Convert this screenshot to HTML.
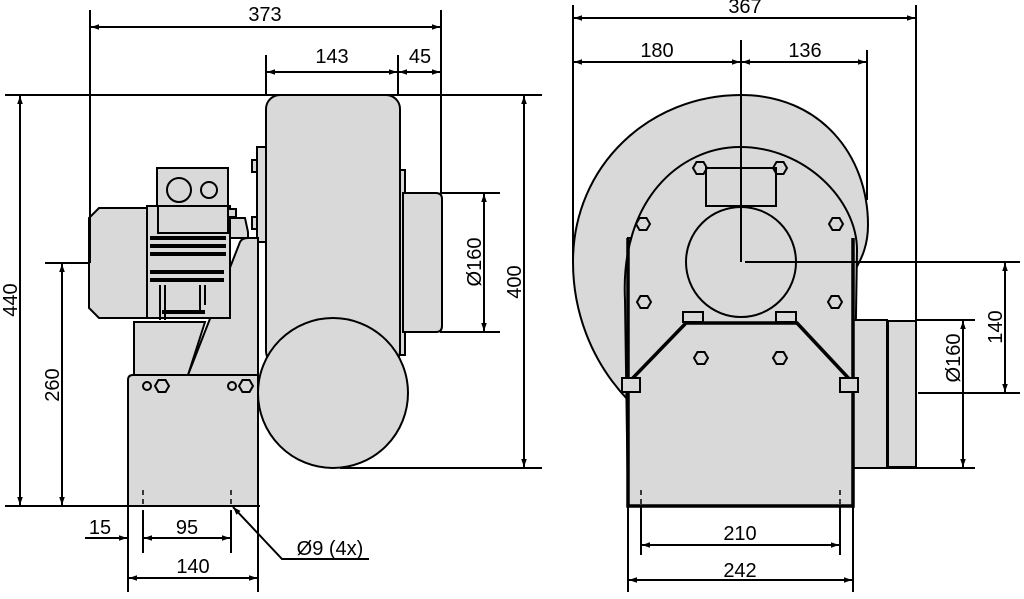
<!DOCTYPE html>
<html><head><meta charset="utf-8"><style>
html,body{margin:0;padding:0;background:#fff;}
svg{display:block;}
text{font-family:"Liberation Sans","DejaVu Sans",sans-serif;font-size:20px;fill:#000;}
</style></head><body>
<svg width="1024" height="599" viewBox="0 0 1024 599" xmlns="http://www.w3.org/2000/svg">
<defs>
<marker id="a" viewBox="0 0 10 10" refX="10" refY="5" markerWidth="10" markerHeight="8" orient="auto-start-reverse" markerUnits="userSpaceOnUse"><path d="M0,1.5 L10,5 L0,8.5z" fill="#000"/></marker>
</defs>
<g stroke="#000" stroke-width="2" fill="#d9d9d9">
<!-- LEFT VIEW -->
<!-- volute -->
<rect x="266" y="95" width="134" height="270" rx="14"/>
<rect x="400" y="170" width="5" height="185" />
<path d="M403,193 H436 Q442,193 442,199 V326 Q442,332 436,332 H403 Z"/>
<circle cx="333" cy="393" r="75"/>
<rect x="257" y="147" width="9" height="95"/>
<rect x="252" y="160" width="5" height="12"/>
<rect x="252" y="217" width="5" height="12"/>
<!-- stand -->
<path d="M128,380 Q128,375 133,375 H258 V506 H128 Z"/>
<path d="M134,322 H205 L188,375 H134 Z"/>
<path d="M188,375 L240,242 Q242,238 248,238 H258 V375 Z"/>
<!-- motor -->
<path d="M99,208 H147 V318 H99 L89,308 V218 Z"/>
<rect x="147" y="206" width="83" height="112"/>
<rect x="157" y="168" width="71" height="38"/>
<rect x="158" y="206" width="70" height="27"/>
<path d="M230,218 H245 L248,232 V238 H230 Z"/>
<rect x="228" y="209" width="8" height="8"/>
</g>
<g stroke="#000" stroke-width="4">
<line x1="150" y1="238" x2="226" y2="238"/><line x1="150" y1="246" x2="226" y2="246"/><line x1="150" y1="254" x2="226" y2="254"/>
<line x1="150" y1="272" x2="224" y2="272"/><line x1="150" y1="280" x2="224" y2="280"/>
<line x1="162" y1="312" x2="205" y2="312"/>
</g>
<g stroke="#000" stroke-width="2" fill="none">
<line x1="160" y1="285" x2="160" y2="320"/><line x1="165" y1="285" x2="165" y2="320"/>
<line x1="200" y1="285" x2="200" y2="310"/><line x1="205" y1="285" x2="205" y2="305"/>
<circle cx="179" cy="190" r="12"/><circle cx="209" cy="190" r="8"/>
<circle cx="147" cy="386" r="4"/><circle cx="232" cy="386" r="4"/>
<polygon points="155,386 158.5,380 165.5,380 169,386 165.5,392 158.5,392"/>
<polygon points="239,386 242.5,380 249.5,380 253,386 249.5,392 242.5,392"/>
</g>
<g stroke="#000" stroke-width="1.5" stroke-dasharray="5,4">
<line x1="143" y1="490" x2="143" y2="506"/><line x1="231" y1="490" x2="231" y2="506"/>
</g>
<!-- left dims -->
<g stroke="#000" stroke-width="2" fill="none">
<line x1="5" y1="95" x2="542" y2="95"/>
<line x1="5" y1="506" x2="260" y2="506"/>
<line x1="45" y1="263" x2="88" y2="263"/>
<line x1="340" y1="468" x2="542" y2="468"/>
<line x1="440" y1="193" x2="500" y2="193"/><line x1="440" y1="332" x2="500" y2="332"/>
<line x1="90" y1="10" x2="90" y2="263"/><line x1="441" y1="10" x2="441" y2="193"/>
<line x1="266" y1="55" x2="266" y2="95"/><line x1="398" y1="55" x2="398" y2="95"/>
<line x1="128" y1="506" x2="128" y2="592"/><line x1="258" y1="506" x2="258" y2="592"/>
<line x1="143" y1="510" x2="143" y2="553"/><line x1="231" y1="510" x2="231" y2="553"/>
<line x1="91" y1="27" x2="440" y2="27" marker-start="url(#a)" marker-end="url(#a)"/>
<line x1="267" y1="72" x2="397" y2="72" marker-start="url(#a)" marker-end="url(#a)"/>
<line x1="399" y1="72" x2="440" y2="72" marker-start="url(#a)" marker-end="url(#a)"/>
<line x1="20" y1="96" x2="20" y2="505" marker-start="url(#a)" marker-end="url(#a)"/>
<line x1="62" y1="264" x2="62" y2="505" marker-start="url(#a)" marker-end="url(#a)"/>
<line x1="524" y1="96" x2="524" y2="467" marker-start="url(#a)" marker-end="url(#a)"/>
<line x1="484" y1="194" x2="484" y2="331" marker-start="url(#a)" marker-end="url(#a)"/>
<line x1="85" y1="538" x2="127" y2="538" marker-end="url(#a)"/>
<line x1="144" y1="538" x2="230" y2="538" marker-start="url(#a)" marker-end="url(#a)"/>
<line x1="129" y1="578" x2="257" y2="578" marker-start="url(#a)" marker-end="url(#a)"/>
<polyline points="369,559 282,559 233,507" marker-end="url(#a)"/>
</g>
<text x="265" y="21" text-anchor="middle">373</text>
<text x="332" y="63" text-anchor="middle">143</text>
<text x="420" y="63" text-anchor="middle">45</text>
<text transform="translate(17,300) rotate(-90)" text-anchor="middle">440</text>
<text transform="translate(59,385) rotate(-90)" text-anchor="middle">260</text>
<text transform="translate(521,282) rotate(-90)" text-anchor="middle">400</text>
<text transform="translate(481,262) rotate(-90)" text-anchor="middle">Ø160</text>
<text x="100" y="534" text-anchor="middle">15</text>
<text x="187" y="534" text-anchor="middle">95</text>
<text x="193" y="573" text-anchor="middle">140</text>
<text x="330" y="555" text-anchor="middle">Ø9 (4x)</text>

<!-- RIGHT VIEW -->
<g stroke="#000" stroke-width="2" fill="#d9d9d9">
<path d="M628,400 C590,360 573,310 573,262 C573,165 650,95 741,95 C820,95 868,155 868,225 C868,245 862,258 855,270 L853,238 L628,238 Z"/>
<path d="M625,300 C620,200 680,147 740,147 C805,147 857,200 857,250 L853,506 H628 Z" />
<rect x="853" y="320" width="34" height="148"/>
<rect x="888" y="321" width="28" height="146"/>
<rect x="706" y="168" width="70" height="38"/>
<circle cx="741" cy="262" r="55"/>
</g>
<g stroke="#000" stroke-width="3.5" fill="none">
<polyline points="628,238 628,506 853,506 853,238"/>
<polyline points="628,383 686,323 797,323 853,383"/>
</g>
<g stroke="#000" stroke-width="2" fill="#d9d9d9">
<rect x="683" y="312" width="20" height="10"/><rect x="776" y="312" width="20" height="10"/>
<rect x="622" y="378" width="18" height="14"/><rect x="840" y="378" width="18" height="14"/>
<g fill="none">
<polygon points="693,168 696.5,162 703.5,162 707,168 703.5,174 696.5,174"/>
<polygon points="773,168 776.5,162 783.5,162 787,168 783.5,174 776.5,174"/>
<polygon points="636,224 639.5,218 646.5,218 650,224 646.5,230 639.5,230"/>
<polygon points="829,224 832.5,218 839.5,218 843,224 839.5,230 832.5,230"/>
<polygon points="637,302 640.5,296 647.5,296 651,302 647.5,308 640.5,308"/>
<polygon points="828,302 831.5,296 838.5,296 842,302 838.5,308 831.5,308"/>
<polygon points="694,358 697.5,352 704.5,352 708,358 704.5,364 697.5,364"/>
<polygon points="773,358 776.5,352 783.5,352 787,358 783.5,364 776.5,364"/>
</g>
</g>
<g stroke="#000" stroke-width="2" fill="none">
<line x1="573" y1="5" x2="573" y2="262"/><line x1="916" y1="5" x2="916" y2="320"/>
<line x1="741" y1="40" x2="741" y2="262"/><line x1="867" y1="50" x2="867" y2="200"/>
<line x1="745" y1="262" x2="1020" y2="262"/><line x1="918" y1="393" x2="1020" y2="393"/>
<line x1="916" y1="320" x2="975" y2="320"/><line x1="887" y1="468" x2="975" y2="468"/>
<line x1="628" y1="506" x2="628" y2="592"/><line x1="853" y1="506" x2="853" y2="592"/>
<line x1="641" y1="506" x2="641" y2="555"/><line x1="840" y1="506" x2="840" y2="555"/>
<line x1="574" y1="18" x2="915" y2="18" marker-start="url(#a)" marker-end="url(#a)"/>
<line x1="574" y1="62" x2="740" y2="62" marker-start="url(#a)" marker-end="url(#a)"/>
<line x1="742" y1="62" x2="866" y2="62" marker-start="url(#a)" marker-end="url(#a)"/>
<line x1="1005" y1="263" x2="1005" y2="392" marker-start="url(#a)" marker-end="url(#a)"/>
<line x1="963" y1="321" x2="963" y2="467" marker-start="url(#a)" marker-end="url(#a)"/>
<line x1="642" y1="545" x2="839" y2="545" marker-start="url(#a)" marker-end="url(#a)"/>
<line x1="629" y1="580" x2="852" y2="580" marker-start="url(#a)" marker-end="url(#a)"/>
</g>
<g stroke="#000" stroke-width="1.5" stroke-dasharray="5,4">
<line x1="641" y1="490" x2="641" y2="506"/><line x1="840" y1="490" x2="840" y2="506"/>
</g>
<text x="745" y="13" text-anchor="middle">367</text>
<text x="657" y="57" text-anchor="middle">180</text>
<text x="805" y="57" text-anchor="middle">136</text>
<text transform="translate(1002,327) rotate(-90)" text-anchor="middle">140</text>
<text transform="translate(960,358) rotate(-90)" text-anchor="middle">Ø160</text>
<text x="740" y="540" text-anchor="middle">210</text>
<text x="740" y="577" text-anchor="middle">242</text>
</svg>
</body></html>
